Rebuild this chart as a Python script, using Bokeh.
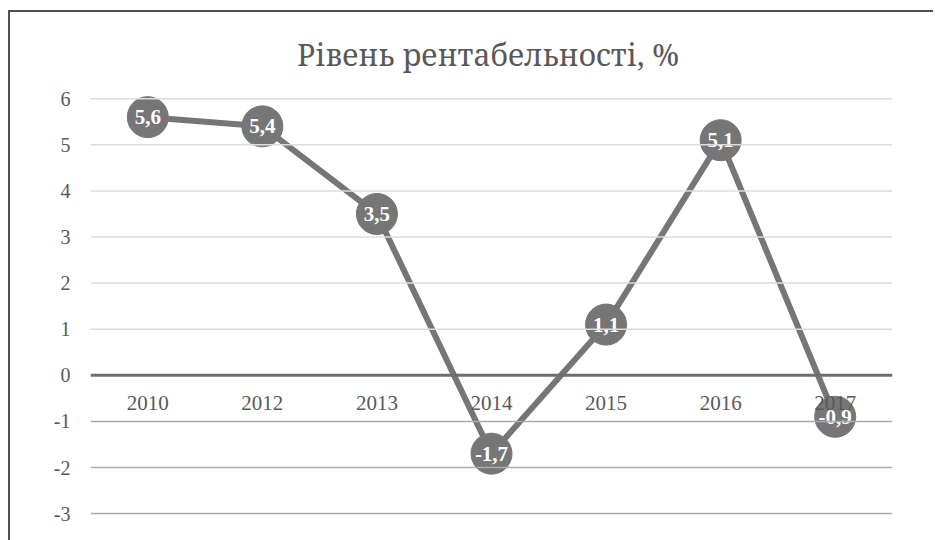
from bokeh.plotting import figure
from bokeh.models import Range1d, Span, FixedTicker, ColumnDataSource, Label
from bokeh.core.properties import value
from bokeh.embed import file_html
from bokeh.resources import INLINE

years = ["2010", "2012", "2013", "2014", "2015", "2016", "2017"]
values = [5.6, 5.4, 3.5, -1.7, 1.1, 5.1, -0.9]
y_ticks = [-3, -2, -1, 0, 1, 2, 3, 4, 5, 6]
title_text = "Рівень рентабельності, %"

labels = [("%.1f" % v).replace(".", ",") for v in values]
src = ColumnDataSource(dict(x=years, y=values, lab=labels, zero=[0] * len(years)))

FONT = "Liberation Serif"
TITLE_FONT = "Noto Serif"
GRAY = "#767676"
TXT = "#595959"

p = figure(width=925, height=530, x_range=years, y_range=Range1d(-3.41, 7.87),
           output_backend="svg", toolbar_location=None,
           min_border_left=80, min_border_right=43, min_border_top=0,
           min_border_bottom=10)
p.x_range.range_padding = 0
p.styles = {"border-top": "2px solid #505050", "border-left": "2px solid #505050",
            "margin-left": "8px", "margin-top": "10px"}

p.outline_line_color = None
p.xaxis.visible = False
p.xgrid.visible = False
p.ygrid.visible = False

yax = p.yaxis[0]
yax.ticker = FixedTicker(ticks=y_ticks)
yax.major_label_overrides = {t: str(t) for t in y_ticks}
yax.axis_line_color = None
yax.major_tick_line_color = None
yax.minor_tick_line_color = None
yax.major_label_text_font = FONT
yax.major_label_text_font_size = "20px"
yax.major_label_text_color = TXT
yax.major_label_standoff = 14

for t in y_ticks:
    if t == 0:
        p.add_layout(Span(location=t, dimension="width", line_color="#6e6e6e", line_width=3))
    elif t > 0:
        p.add_layout(Span(location=t, dimension="width", line_color="#dcdcdc", line_width=1.5))
    else:
        p.add_layout(Span(location=t, dimension="width", line_color="#ababab", line_width=1.5))

p.add_layout(Label(x=len(years) / 2 - 0.03, y=6.96, text=title_text,
                   text_font=TITLE_FONT, text_font_size="30px", text_color=TXT,
                   text_align="center", text_baseline="alphabetic"))

p.line(x="x", y="y", source=src, line_color=GRAY, line_width=6)
p.scatter(x="x", y="y", source=src, size=41, fill_color=GRAY, line_color=GRAY)

p.text(x="x", y="zero", text="x", source=src,
       text_font=value(FONT), text_font_size="21px", text_color=TXT,
       text_align="center", text_baseline="top", y_offset=21)

p.text(x="x", y="y", text="lab", source=src, text_font=value(FONT),
       text_font_size="21px", text_font_style="bold", text_color="white",
       text_align="center", text_baseline="middle")

open("out.html", "w").write(file_html(p, INLINE))
